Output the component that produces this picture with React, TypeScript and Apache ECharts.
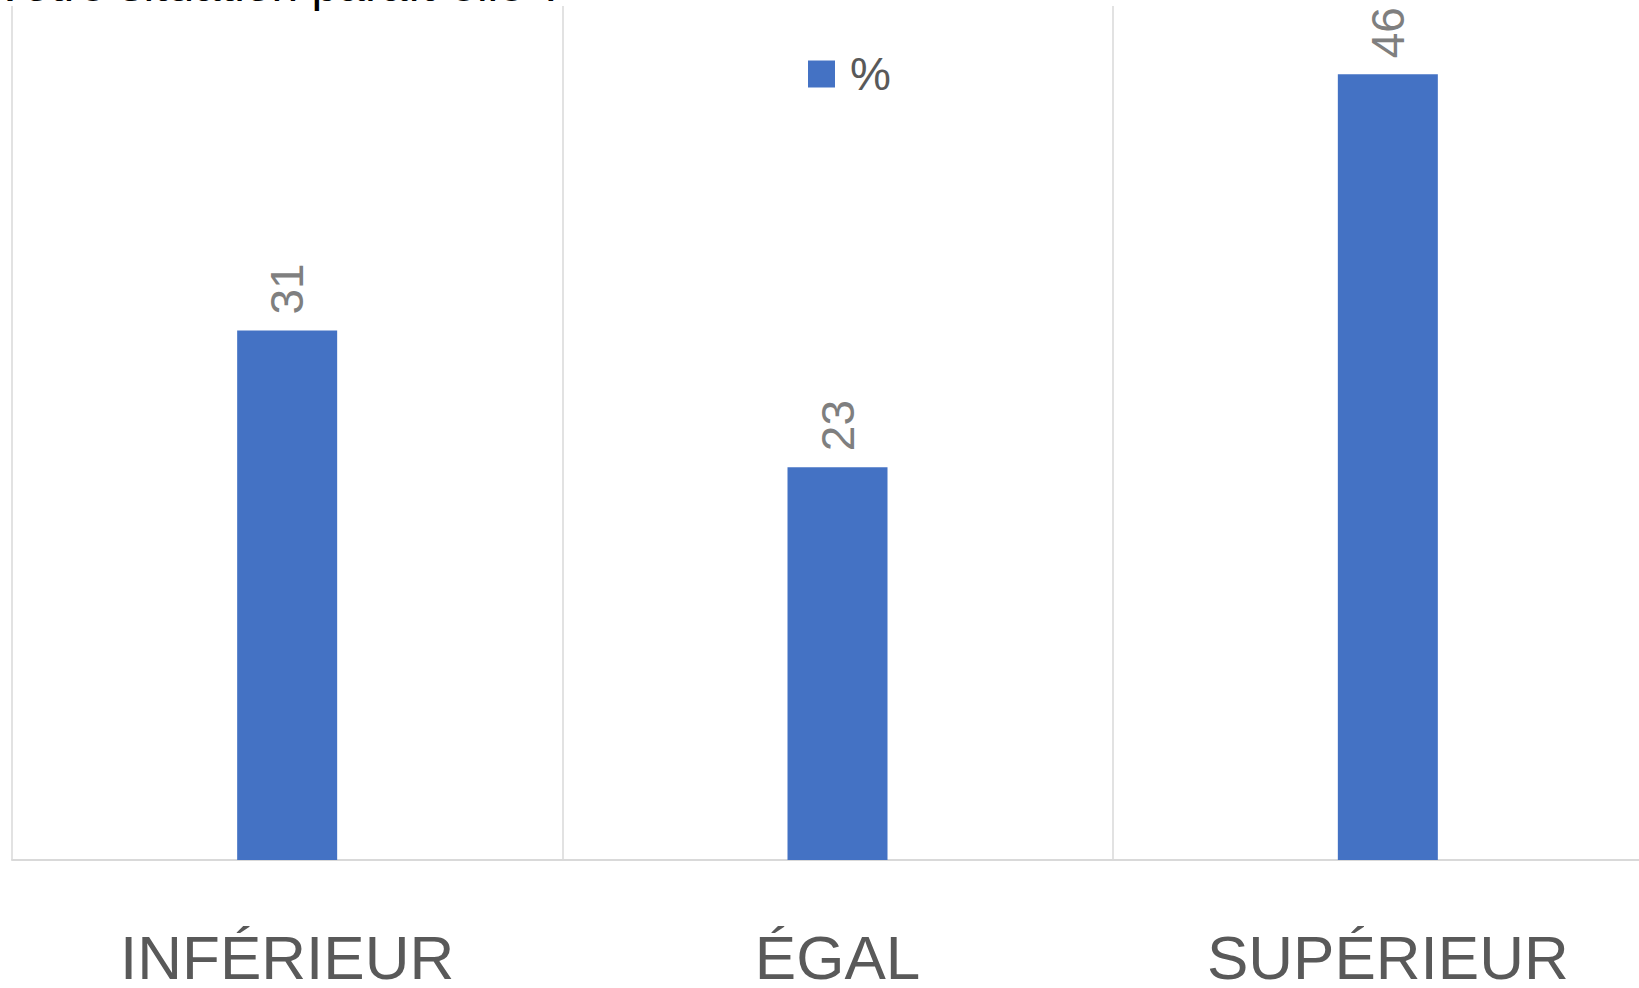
import React, { useEffect, useRef } from "react";
import * as echarts from "echarts";

const categories = ["INFÉRIEUR", "ÉGAL", "SUPÉRIEUR"];
const values = [31, 23, 46];
const seriesName = "%";
const yMax = 50;
const titleFragment = "Votre situation paraît-elle ?";

export default function App() {
  const ref = useRef<HTMLDivElement>(null);
  useEffect(() => {
    if (!ref.current) return;
    document.documentElement.style.overflow = "hidden";
    document.body.style.margin = "0";
    const chart = echarts.init(ref.current, undefined, { renderer: "svg" });
    chart.setOption({
      animation: false,
      backgroundColor: "#ffffff",
      legend: {
        data: [seriesName],
        left: 803,
        top: 46,
        itemWidth: 27,
        itemHeight: 27,
        itemGap: 10,
        icon: "rect",
        textStyle: {
          fontSize: 46,
          color: "#595959",
          fontFamily: "Liberation Sans",
          padding: [0, 0, 0, 10],
        },
      },
      graphic: [
        {
          type: "text",
          x: -6,
          y: 8,
          style: {
            text: titleFragment,
            fontSize: 48,
            fill: "#000000",
            fontFamily: "Liberation Sans",
            verticalAlign: "bottom",
          },
        },
      ],
      grid: { left: 12, top: 6, width: 1651, bottom: 126, containLabel: false },
      xAxis: {
        type: "category",
        data: categories,
        axisLine: { show: true, lineStyle: { color: "#d9d9d9", width: 2 } },
        axisTick: { show: false },
        splitLine: { show: true, lineStyle: { color: "#d9d9d9", width: 1.5 } },
        axisLabel: {
          fontSize: 62,
          lineHeight: 46,
          color: "#595959",
          fontFamily: "Liberation Sans",
          margin: 74,
          interval: 0,
        },
      },
      yAxis: {
        type: "value",
        min: 0,
        max: yMax,
        show: false,
        splitLine: { show: false },
      },
      series: [
        {
          name: seriesName,
          type: "bar",
          data: values,
          barWidth: 100,
          itemStyle: { color: "#4472C4" },
          label: {
            show: true,
            position: "top",
            rotate: 90,
            align: "left",
            verticalAlign: "middle",
            distance: 16,
            fontSize: 46,
            color: "#7f7f7f",
            fontFamily: "Liberation Sans",
          },
        },
      ],
    });
    return () => chart.dispose();
  }, []);
  return (
    <div
      style={{
        position: "absolute",
        left: 0,
        top: 0,
        width: 1639,
        height: 988,
        overflow: "hidden",
        background: "#ffffff",
      }}
    >
      <div ref={ref} style={{ width: 1700, height: 988 }} />
    </div>
  );
}
